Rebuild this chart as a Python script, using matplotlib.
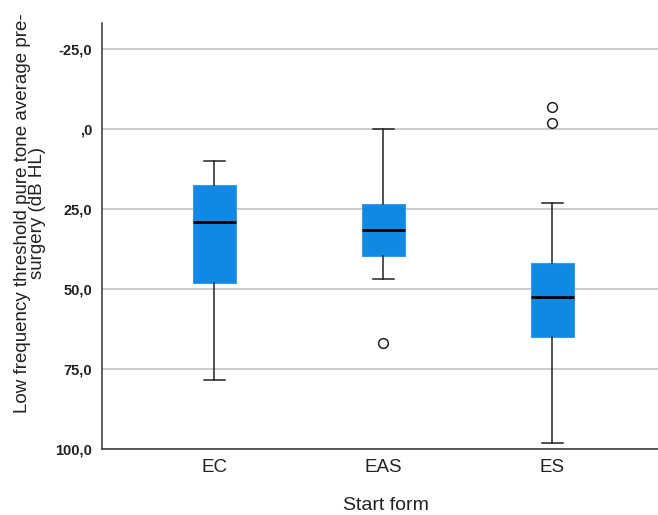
import matplotlib.pyplot as plt

plt.rcParams['font.family'] = ['Liberation Sans', 'DejaVu Sans']

# Box statistics (dB HL)
groups = ["EC", "EAS", "ES"]
whisker_low = [10.0, 0.0, 23.2]
q1 = [17.5, 23.4, 41.8]
median = [29.1, 31.7, 52.7]
q3 = [48.3, 39.9, 65.0]
whisker_high = [78.4, 46.9, 98.1]
outliers = [[], [66.8], [-6.8, -1.7]]

yticks = [-25, 0, 25, 50, 75, 100]
ytick_labels = ["-25,0", ",0", "25,0", "50,0", "75,0", "100,0"]

stats = []
for i, g in enumerate(groups):
    stats.append({
        "label": g,
        "whislo": whisker_low[i],
        "q1": q1[i],
        "med": median[i],
        "q3": q3[i],
        "whishi": whisker_high[i],
        "fliers": outliers[i],
    })

fig = plt.figure(figsize=(6.58, 5.15), dpi=100)
ax = fig.add_axes([102 / 658, (515 - 449) / 515, 1 - 102 / 658, (449 - 23) / 515])

box_color = "#1089e3"
ax.bxp(stats, positions=[0, 1, 2], widths=0.254, patch_artist=True,
       boxprops=dict(facecolor=box_color, edgecolor="#3a9ae6", linewidth=0.8),
       medianprops=dict(color="black", linewidth=2),
       whiskerprops=dict(color="#222222", linewidth=1.1),
       capprops=dict(color="#222222", linewidth=1.1),
       capwidths=0.124,
       flierprops=dict(marker="o", markerfacecolor="white", markeredgecolor="#222222",
                       markersize=7, markeredgewidth=1.1),
       zorder=3)

ax.set_ylim(100, -33)
ax.set_xlim(-0.663, 2.627)
ax.set_yticks(yticks)
ax.set_yticklabels(ytick_labels, fontsize=10.5, fontweight="bold", color="#222222")
ax.set_xticks([0, 1, 2])
ax.set_xticklabels(groups, fontsize=13.5, color="#222222")
ax.tick_params(axis="y", length=0, pad=7)
ax.tick_params(axis="x", length=0, pad=7)
ax.yaxis.grid(True, color="#c4c4c4", linewidth=1.2, zorder=0)
ax.set_axisbelow(True)

for side in ["top", "right"]:
    ax.spines[side].set_visible(False)
for side in ["left", "bottom"]:
    ax.spines[side].set_color("#333333")
    ax.spines[side].set_linewidth(1.1)

ax.set_xlabel("Start form", fontsize=14, labelpad=14, color="#222222")
ax.xaxis.set_label_coords(0.511, -0.113)
ax.set_ylabel("Low frequency threshold pure tone average pre-\nsurgery (dB HL)",
              fontsize=13.5, color="#222222", linespacing=0.85)
ax.yaxis.set_label_coords(-0.100, 0.554)

fig.savefig("out.png", dpi=100)
